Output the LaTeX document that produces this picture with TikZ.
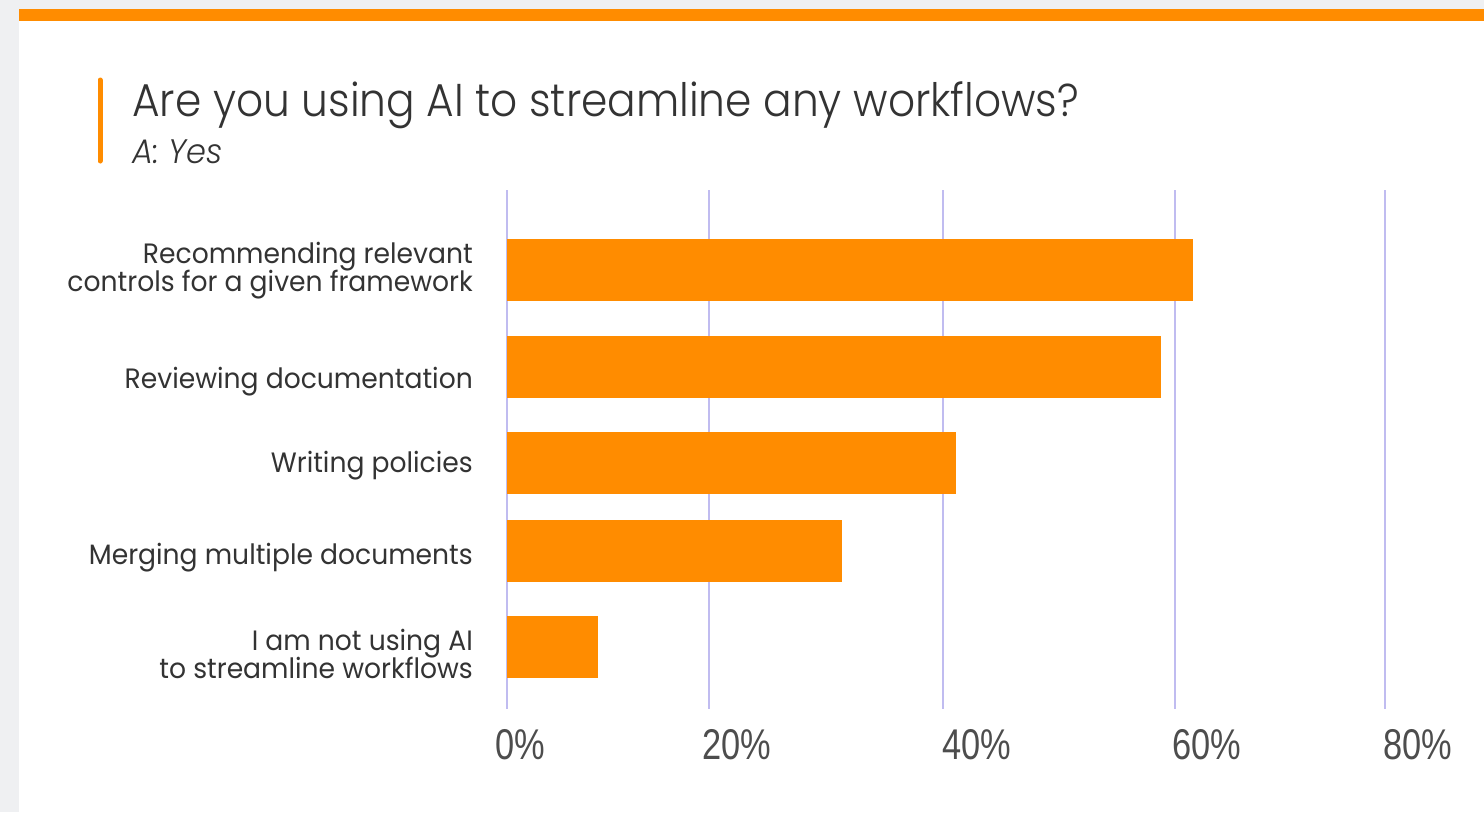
\documentclass[tikz,border=0pt]{standalone}
\usepackage{fontspec}
\setmainfont{Poppins}[FakeStretch=0.95]
\newfontfamily\titlefont{Poppins Light}[FakeStretch=0.92]
\newfontfamily\subfont{Poppins Light}[FakeStretch=0.94]
\newfontfamily\tickfont{Liberation Sans}[FakeStretch=0.8]
\definecolor{accent}{RGB}{255,140,0}
\definecolor{pagegray}{RGB}{239,240,242}
\definecolor{gridline}{RGB}{192,188,240}
\definecolor{ink}{RGB}{51,51,51}
\definecolor{tickink}{RGB}{77,77,77}
\tikzset{
  bar/.style={fill=accent, draw=none, inner sep=0pt, anchor=north west, minimum height=62pt},
  gridrule/.style={draw=gridline, line width=1.5pt},
  catlabel/.style={text=ink, inner sep=0pt, align=right,
    font=\fontsize{28}{28}\selectfont},
  ticklabel/.style={text=tickink, inner sep=0pt, anchor=base west,
    font=\tickfont\fontsize{43}{43}\selectfont},
}
\begin{document}
\begin{tikzpicture}[x=1pt,y=-1pt]
\useasboundingbox (0,0) rectangle (1484,812);
% page and card
\fill[pagegray] (0,0) rectangle (1484,812);
\fill[white] (19,9) rectangle (1484,812);
\fill[accent] (19,9) rectangle (1484,21);
% heading
\draw[accent, line width=5pt, line cap=round] (100,80) -- (100,161);
\node[anchor=base west, inner sep=0pt, text=ink, font=\titlefont\fontsize{46}{46}\selectfont] (title) at (132,116)
  {Are you using AI to streamline any workflows?};
\node[anchor=base west, inner sep=0pt, text=ink, font=\subfont\itshape\fontsize{34}{34}\selectfont] (subtitle) at (132,163)
  {A: Yes};
% grid
\foreach \gx/\gn in {507/0,709/20,943/40,1175/60,1385/80}{
  \coordinate (gtop\gn) at (\gx,190);
  \coordinate (gbot\gn) at (\gx,709);
  \draw[gridrule] (gtop\gn) -- (gbot\gn);
}
% bars
\node[bar, minimum width=686pt] (bar1) at (507,239) {};
\node[bar, minimum width=654pt] (bar2) at (507,336) {};
\node[bar, minimum width=449pt] (bar3) at (507,432) {};
\node[bar, minimum width=335pt] (bar4) at (507,520) {};
\node[bar, minimum width=91pt] (bar5) at (507,616) {};
% category labels
\node[catlabel, anchor=base east] (lab1a) at (473,263) {Recommending relevant};
\node[catlabel, anchor=base east] (lab1b) at (473,291) {controls for a given framework};
\node[catlabel, anchor=base east] (lab2) at (473,388) {Reviewing documentation};
\node[catlabel, anchor=base east] (lab3) at (473,472) {Writing policies};
\node[catlabel, anchor=base east] (lab4) at (473,564) {Merging multiple documents};
\node[catlabel, anchor=base east] (lab5a) at (473,650) {I am not using AI};
\node[catlabel, anchor=base east] (lab5b) at (473,678) {to streamline workflows};
% axis ticks
\node[ticklabel] (t0) at (495,759) {0\%};
\node[ticklabel] (t20) at (702,759) {20\%};
\node[ticklabel] (t40) at (942,759) {40\%};
\node[ticklabel] (t60) at (1172,759) {60\%};
\node[ticklabel] (t80) at (1383,759) {80\%};
\end{tikzpicture}
\end{document}
